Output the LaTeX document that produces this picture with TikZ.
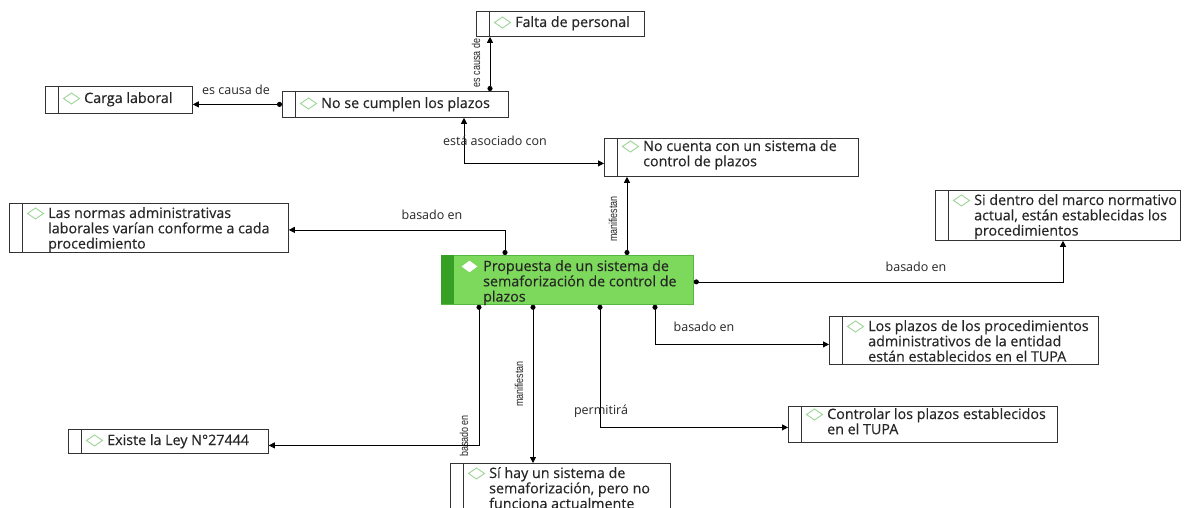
\documentclass[tikz,border=0pt]{standalone}
\usepackage{fontspec}
\setmainfont[FakeBold=0.35]{Open Sans}
\newfontfamily\lblfont{Open Sans}
\newfontfamily\narrowfont[FakeStretch=0.78]{Liberation Sans}
\usetikzlibrary{arrows.meta,calc}
\definecolor{gfill}{HTML}{7DD95B}
\definecolor{gborder}{HTML}{55B83C}
\definecolor{gbar}{HTML}{36A024}
\definecolor{diamc}{HTML}{9CD596}
\tikzset{
  boxst/.style={draw=black!80, line width=0.8pt, fill=white, rectangle, inner sep=0pt, anchor=north west},
  btext/.style={anchor=base west, inner sep=0pt, font=\fontsize{14.3}{14.6}\selectfont, text=black!85},
  conn/.style={draw=black, line width=0.8pt, {Circle[length=5pt]}-{Triangle[length=6pt,width=6pt]}},
  lbl/.style={font=\lblfont\fontsize{12.5}{13}\selectfont, text=black!85, inner sep=1pt},
  vlbl/.style={font=\narrowfont\fontsize{11.5}{12}\selectfont, text=black!85, inner sep=1pt, rotate=90}
}
\newcommand\lines[1]{\begin{tabular}[t]{@{}l@{}}#1\end{tabular}}
\newcommand\cbox[7]{%
  \node[boxst, minimum width={(#4-#2)*1pt}, minimum height={(#5-#3)*1pt}] (#1) at (#2,#3) {};
  \draw[black!80, line width=0.8pt] ([xshift=13pt]#1.north west) -- ([xshift=13pt]#1.south west);
  \draw[diamc, line width=0.9pt] ($(#1.north west)+(18.5,#7-4.5)$) -- ($(#1.north west)+(26.5,#7-10)$) -- ($(#1.north west)+(34.5,#7-4.5)$) -- ($(#1.north west)+(26.5,#7+1)$) -- cycle;
  \node[btext] at ($(#1.north west)+(39,#7)$) {\lines{#6}};
}
\begin{document}
\begin{tikzpicture}[x=1pt,y=-1pt]
\useasboundingbox (0,0) rectangle (1187,508);
\fill[white] (0,0) rectangle (1187,508);
% boxes
\cbox{falta}{476}{11}{644}{36}{Falta de personal}{16}
\cbox{carga}{45}{86}{192}{113}{Carga laboral}{17}
\cbox{nocumplen}{282}{91}{508}{117}{No se cumplen los plazos}{17}
\cbox{ncuenta}{604}{138}{858}{176}{No cuenta con un sistema de\\control de plazos}{13}
\cbox{normas}{9}{203}{288}{252}{Las normas administrativas\\laborales varían conforme a cada\\procedimiento}{15}
\cbox{sidentro}{935}{190}{1180}{240}{Si dentro del marco normativo\\actual, están establecidas los\\procedimientos}{15}
\cbox{losplazos}{829}{316}{1098}{364}{Los plazos de los procedimientos\\administrativos de la entidad\\están establecidos en el TUPA}{15}
\cbox{controlar}{788}{406}{1057}{442}{Controlar los plazos establecidos\\en el TUPA}{13}
\cbox{existe}{68}{429}{268}{453}{Existe la Ley N°27444}{16}
\cbox{sihay}{450}{463}{670}{520}{Sí hay un sistema de\\semaforización, pero no\\funciona actualmente}{15}
% central green box
\node[rectangle, draw=gborder, line width=0.8pt, fill=gfill, anchor=north west, minimum width=252pt, minimum height=49pt, inner sep=0pt] (prop) at (441,255) {};
\fill[gbar] ([shift={(0.4,0.4)}]prop.north west) rectangle ([shift={(13,-0.4)}]prop.south west);
\draw[white, fill=white] ($(prop.north west)+(21,11.5)$) -- ($(prop.north west)+(28.5,6)$) -- ($(prop.north west)+(36,11.5)$) -- ($(prop.north west)+(28.5,17)$) -- cycle;
\node[btext] at ($(prop.north west)+(42,16)$) {\lines{Propuesta de un sistema de\\semaforización de control de\\plazos}};
% connectors
\draw[conn] ([xshift=208pt]nocumplen.north west) -- ([xshift=208pt]nocumplen.north west |- falta.south);
\draw[conn] (nocumplen.west) -- (nocumplen.west -| carga.east);
\draw[line width=0.8pt, {Triangle[length=6pt,width=6pt]}-{Triangle[length=6pt,width=6pt]}] ([xshift=182pt]nocumplen.south west) |- ([yshift=-6pt]ncuenta.west);
\draw[conn] ([xshift=186pt]prop.north west) -- ([xshift=186pt]prop.north west |- ncuenta.south);
\draw[conn] ([xshift=64pt]prop.north west) |- ([yshift=-2pt]normas.east);
\draw[conn] ([yshift=-2pt]prop.east) -| ([xshift=128pt]sidentro.south west);
\draw[conn] ([xshift=214pt]prop.south west) |- ([yshift=-4pt]losplazos.west);
\draw[conn] ([xshift=159pt]prop.south west) |- ([yshift=-3pt]controlar.west);
\draw[conn] ([xshift=92pt]prop.south west) -- ([xshift=92pt]prop.south west |- sihay.north);
\draw[conn] ([xshift=38pt]prop.south west) |- ([yshift=-4pt]existe.east);
% labels
\node[vlbl] (l1) at (476,63) {es causa de};
\node[lbl] (l2) at (236,90) {es causa de};
\node[lbl] (l3) at (495,141) {está asociado con};
\node[vlbl] (l4) at (613,219) {manifiestan};
\node[lbl] (l5) at (432,215) {basado en};
\node[lbl] (l6) at (916,267) {basado en};
\node[lbl] (l7) at (704,327) {basado en};
\node[lbl] (l8) at (601,411) {permitirá};
\node[vlbl] (l9) at (519,384) {manifiestan};
\node[vlbl] (l10) at (464,436) {basado en};
\end{tikzpicture}
\end{document}
